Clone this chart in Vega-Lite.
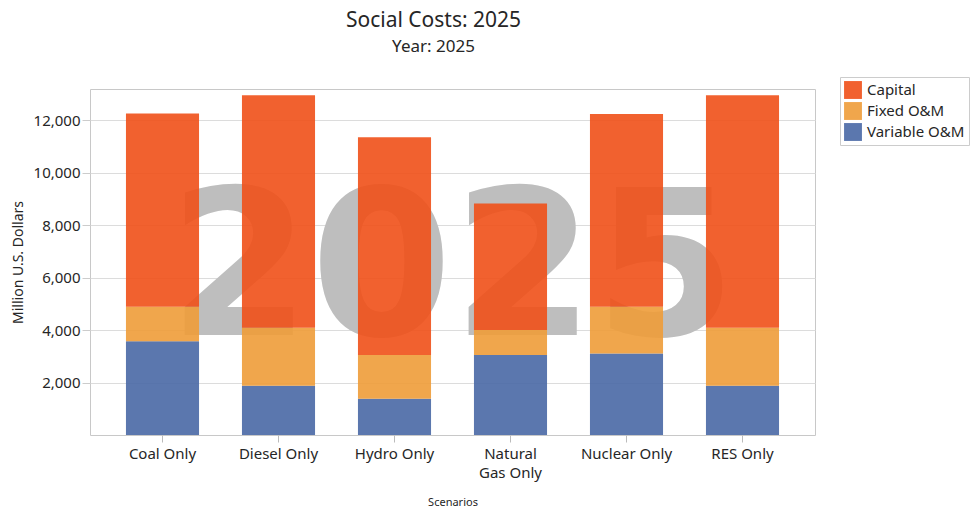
{
  "$schema": "https://vega.github.io/schema/vega-lite/v6.json",
  "width": 725,
  "height": 346,
  "autosize": {"type": "none"},
  "padding": {"left": 90, "top": 89, "right": 162, "bottom": 77},
  "background": "white",
  "config": {
    "view": {"stroke": "#c8c8c8", "strokeWidth": 1},
    "font": "Noto Sans",
    "axisY": {
      "titleFontSize": 14,
      "titleFontWeight": "normal",
      "titleColor": "#262626",
      "labelFontSize": 15,
      "labelColor": "#262626",
      "tickSize": 8,
      "tickColor": "#cccccc",
      "labelPadding": 2,
      "gridColor": "#dcdcdc",
      "domain": false,
      "titlePadding": 8
    }
  },
  "title": {
    "text": "Social Costs: 2025",
    "subtitle": "Year: 2025",
    "fontSize": 21,
    "fontWeight": "normal",
    "subtitleFontSize": 17,
    "color": "#262626",
    "subtitleColor": "#262626",
    "font": "Noto Sans",
    "subtitleFont": "Noto Sans",
    "anchor": "middle",
    "dx": -19,
    "offset": 22,
    "subtitlePadding": 8
  },
  "layer": [
    {
      "data": {"values": [{"watermark": "2025", "level": 3800}]},
      "mark": {"type": "text", "font": "DejaVu Sans", "fontWeight": "bold", "fontSize": 204, "color": "#bebebe", "align": "center", "baseline": "alphabetic", "x": {"expr": "width/2"}},
      "encoding": {
        "text": {"field": "watermark"},
        "y": {
          "field": "level",
          "type": "quantitative",
          "scale": {"domain": [0, 13200], "nice": false},
          "axis": {"title": "Million U.S. Dollars", "values": [2000, 4000, 6000, 8000, 10000, 12000], "format": ",.0f"}
        }
      }
    },
    {
      "data": {"values": [
        {"Scenario": "Coal Only", "Component": "Variable O&M", "Cost": 3580},
        {"Scenario": "Coal Only", "Component": "Fixed O&M", "Cost": 1315},
        {"Scenario": "Coal Only", "Component": "Capital", "Cost": 7375},
        {"Scenario": "Diesel Only", "Component": "Variable O&M", "Cost": 1875},
        {"Scenario": "Diesel Only", "Component": "Fixed O&M", "Cost": 2215},
        {"Scenario": "Diesel Only", "Component": "Capital", "Cost": 8870},
        {"Scenario": "Hydro Only", "Component": "Variable O&M", "Cost": 1380},
        {"Scenario": "Hydro Only", "Component": "Fixed O&M", "Cost": 1670},
        {"Scenario": "Hydro Only", "Component": "Capital", "Cost": 8310},
        {"Scenario": "Natural Gas Only", "Component": "Variable O&M", "Cost": 3050},
        {"Scenario": "Natural Gas Only", "Component": "Fixed O&M", "Cost": 955},
        {"Scenario": "Natural Gas Only", "Component": "Capital", "Cost": 4830},
        {"Scenario": "Nuclear Only", "Component": "Variable O&M", "Cost": 3110},
        {"Scenario": "Nuclear Only", "Component": "Fixed O&M", "Cost": 1785},
        {"Scenario": "Nuclear Only", "Component": "Capital", "Cost": 7355},
        {"Scenario": "RES Only", "Component": "Variable O&M", "Cost": 1875},
        {"Scenario": "RES Only", "Component": "Fixed O&M", "Cost": 2215},
        {"Scenario": "RES Only", "Component": "Capital", "Cost": 8870}
      ]},
      "mark": {"type": "bar", "opacity": 0.9},
      "encoding": {
        "x": {
          "field": "Scenario",
          "type": "nominal",
          "sort": null,
          "scale": {"paddingInner": 0.37, "paddingOuter": 0.31},
          "axis": {
            "title": "Scenarios",
            "titleFontSize": 11,
            "titleFontWeight": "normal",
            "titleColor": "#262626",
            "labelAngle": 0,
            "labelFontSize": 15,
            "labelColor": "#262626",
            "tickSize": 7,
            "tickColor": "#bbbbbb",
            "labelPadding": 4,
            "domain": false,
            "titlePadding": 16,
            "labelLineHeight": 19,
            "labelExpr": "datum.label == 'Natural Gas Only' ? ['Natural', 'Gas Only'] : datum.label"
          }
        },
        "y": {
          "field": "Cost",
          "type": "quantitative",
          "stack": "zero",
          "scale": {"domain": [0, 13200], "nice": false},
          "axis": {"title": "Million U.S. Dollars", "values": [2000, 4000, 6000, 8000, 10000, 12000], "format": ",.0f"}
        },
        "color": {
          "field": "Component",
          "type": "nominal",
          "scale": {"domain": ["Capital", "Fixed O&M", "Variable O&M"], "range": ["#EF5018", "#EE9C38", "#4968A5"]},
          "legend": {
            "title": null,
            "orient": "none",
            "legendX": 750,
            "legendY": -12,
            "symbolType": "square",
            "symbolSize": 320,
            "symbolStrokeWidth": 0,
            "labelFontSize": 15,
            "labelColor": "#262626",
            "strokeColor": "#cccccc",
            "fillColor": "white",
            "padding": 4,
            "rowPadding": 3,
            "labelOffset": 5
          }
        },
        "order": {"field": "Component", "sort": "descending"}
      }
    }
  ]
}
